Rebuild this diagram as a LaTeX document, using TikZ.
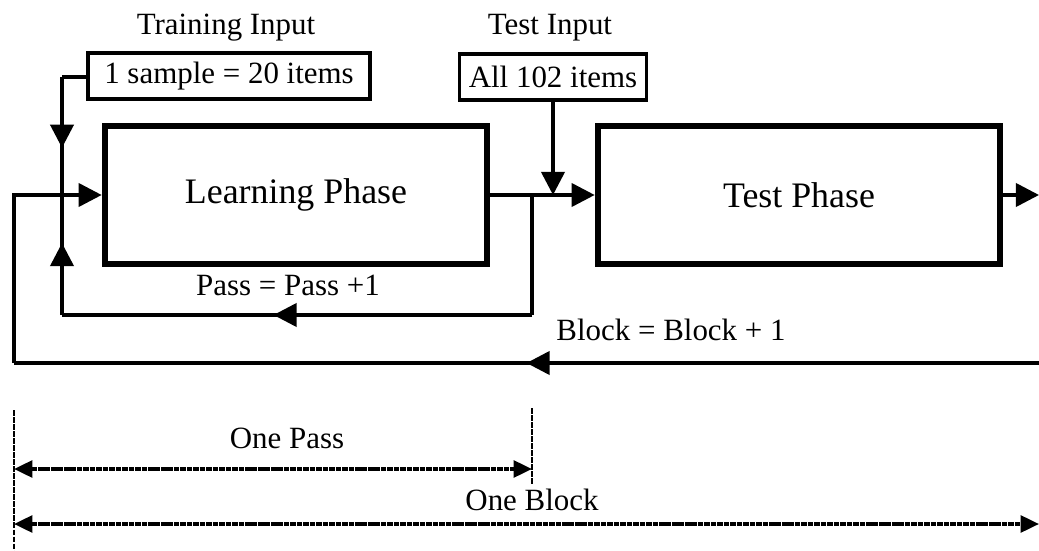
\documentclass[tikz,border=0pt]{standalone}
\usepackage{fontspec}
\setmainfont{Liberation Serif}
\usetikzlibrary{arrows.meta,decorations.markings}

\begin{document}
\begin{tikzpicture}[x=0.025cm, y=-0.025cm,
    conn/.style={line width=2.6pt},
    tip/.style={-{Triangle[length=0.58cm,width=0.58cm]}},
    midarrow/.style={postaction={decorate}, decoration={markings,
      mark=at position #1 with {\arrow{Triangle[length=0.58cm,width=0.58cm]}}}},
    midarrow/.default=0.5,
    phasebox/.style={draw, line width=4.6pt, minimum height=3.45cm,
      font=\fontsize{25.5}{30}\selectfont},
    inbox/.style={draw, line width=2.6pt, minimum height=1.15cm,
      font=\fontsize{22}{26}\selectfont},
    lbl/.style={font=\fontsize{22}{26}\selectfont},
    dimline/.style={line width=2.4pt, dash pattern=on 4pt off 0.6pt,
      {Triangle[length=0.46cm,width=0.42cm]}-{Triangle[length=0.46cm,width=0.42cm]}},
    dimtick/.style={line width=1.5pt, dash pattern=on 4pt off 1pt},
  ]
  \useasboundingbox (0,0) rectangle (1039,551);

  % Inputs
  \node[lbl] (trainlbl) at (226,28) {Training Input};
  \node[inbox, minimum width=7.05cm] (trainbox) at (229,76) {1 sample = 20 items};
  \node[lbl] (testlbl) at (550,28) {Test Input};
  \node[inbox, minimum width=4.68cm] (testbox) at (553,77) {All 102 items};

  % Phases
  \node[phasebox, minimum width=9.55cm] (learn) at (296,195) {Learning Phase};
  \node[phasebox, minimum width=10.05cm] (test) at (799,195) {Test Phase};

  % Junction points
  \coordinate (tl) at (62,77);
  \coordinate (jl) at (tl |- learn.west);
  \coordinate (pb) at (62,315);
  \coordinate (pr) at (532,315);
  \coordinate (jr) at (pr |- learn.east);
  \coordinate (bl) at (14,363);
  \coordinate (br) at (1039,363);
  \coordinate (out) at (1039,195);

  % Training input path
  \draw[conn] (trainbox.west |- tl) -- (tl);
  \draw[conn, midarrow=0.6] (tl) -- (jl);

  % Learning -> Test
  \draw[conn, tip] (learn.east) -- (test.west);
  \draw[conn, tip] (testbox.south) -- (testbox.south |- learn.east);
  \draw[conn, tip] (test.east) -- (out);

  % Pass loop
  \draw[conn] (jr) -- (pr);
  \draw[conn, midarrow=0.55] (pr) -- (pb);
  \draw[conn, midarrow=0.6] (pb) -- (jl);
  \node[lbl] (passlbl) at (288,285) {Pass = Pass +1};

  % Block loop
  \draw[conn, midarrow=0.5] (br) -- (bl);
  \draw[conn, tip] (bl) |- (learn.west);
  \node[lbl] (blocklbl) at (671,330) {Block = Block + 1};

  % Dimensions
  \coordinate (t1a) at (14,410);
  \coordinate (t1b) at (14,551);
  \coordinate (t2a) at (532,408);
  \coordinate (t2b) at (532,484);
  \draw[dimtick] (t1a) -- (t1b);
  \draw[dimtick] (t2a) -- (t2b);

  \coordinate (d1) at (14,469);
  \coordinate (d2) at (532,469);
  \draw[dimline] (d1) -- (d2);
  \node[lbl] (onepass) at (287,438) {One Pass};

  \coordinate (e1) at (14,524);
  \coordinate (e2) at (1039,524);
  \draw[dimline] (e1) -- (e2);
  \node[lbl] (oneblock) at (532,500) {One Block};

\end{tikzpicture}
\end{document}
